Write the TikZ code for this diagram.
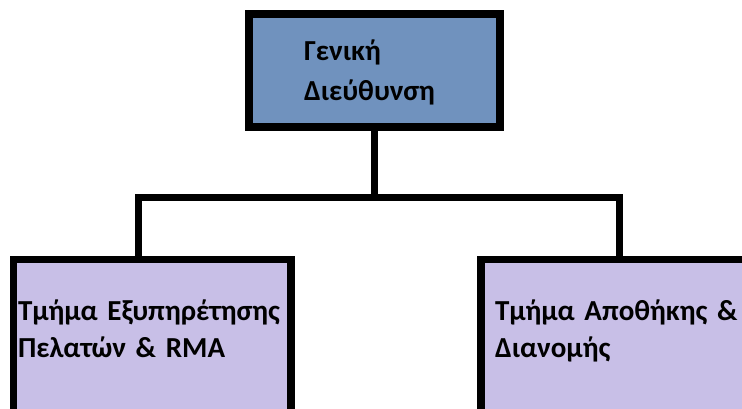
\documentclass[tikz,border=0pt]{standalone}
\usepackage{fontspec}
\setmainfont{Carlito}
\usetikzlibrary{positioning}
\definecolor{headblue}{RGB}{112,146,190}
\definecolor{deptlilac}{RGB}{200,191,231}
\begin{document}
\begin{tikzpicture}[x=1pt, y=-1pt, line join=miter, font=\fontsize{29}{37}\selectfont\bfseries,
	box/.style={draw=black, line width=7.5pt, rectangle, outer sep=0pt, inner ysep=0pt, align=left, anchor=north west},
	conn/.style={line width=7pt}]
	\useasboundingbox (0,0) rectangle (742,408);
	\clip (0,0) rectangle (742,408);
	%\draw[color=gray!50,dashed] (0,0) grid[step=50] (742,408);
	\node[box, fill=headblue, font=\fontsize{29}{40}\selectfont\bfseries, inner xsep=55pt, text width=141pt, text height=46pt, text depth=67pt] (head) at (249,14) {Γενική\\Διεύθυνση};
	\node[box, fill=deptlilac, inner xsep=4.5pt, text width=268.5pt, text height=60.5pt, text depth=200pt] (cust) at (13.5,259.5) {Τμήμα Εξυπηρέτησης\\Πελατών \& RMA};
	\node[box, fill=deptlilac, inner xsep=14pt, text width=272pt, text height=60.5pt, text depth=200pt] (store) at (481,259.5) {Τμήμα Αποθήκης \&\\Διανομής};
	\coordinate (jl) at (138.5,197.5);
	\coordinate (jr) at (619.5,197.5);
	\draw[conn] (head.south) -- (head.south |- jl);
	\draw[conn] (jl |- cust.north) -- (jl) -- (jr) -- (jr |- store.north);
\end{tikzpicture}
\end{document}
